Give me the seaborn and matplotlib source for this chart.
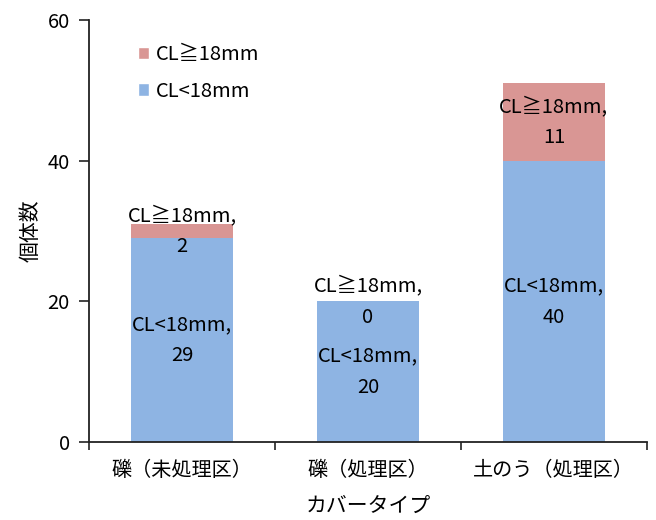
import matplotlib
matplotlib.use("Agg")
import matplotlib.pyplot as plt
from matplotlib.patches import Patch
import seaborn as sns
import pandas as pd

# Data
categories = ["礫（未処理区）", "礫（処理区）", "土のう（処理区）"]
small_counts = [29, 20, 40]   # CL<18mm
large_counts = [2, 0, 11]     # CL≧18mm
label_small = "CL<18mm"
label_large = "CL≧18mm"
y_ticks = [0, 20, 40, 60]

sns.set_theme(style="white")
plt.rcParams["font.family"] = ["Noto Sans CJK JP", "DejaVu Sans"]

blue = "#8EB4E3"
pink = "#D99694"
ink = "#000000"

df = pd.DataFrame({
    "type": categories,
    "small": small_counts,
    "large": large_counts,
})
df["total"] = df["small"] + df["large"]

fig = plt.figure(figsize=(6.56, 5.2), dpi=100)
ax = fig.add_axes([0.136, 0.15, 0.85, 0.8115])

sns.barplot(data=df, x="type", y="total", color=pink, width=0.55,
            saturation=1, ax=ax, linewidth=0)
sns.barplot(data=df, x="type", y="small", color=blue, width=0.55,
            saturation=1, ax=ax, linewidth=0)

# Segment labels, centred on each segment
fs = 14.5
for i, (s, l) in enumerate(zip(small_counts, large_counts)):
    ax.text(i, s / 2, f"{label_small},\n{s}", ha="center", va="center",
            fontsize=fs, color=ink, linespacing=1.65)
    ax.text(i, s + l / 2, f"{label_large},\n{l}", ha="center", va="center",
            fontsize=fs, color=ink, linespacing=1.65)

ax.set_ylim(0, 60)
ax.set_xlim(-0.5, 2.5)
ax.set_yticks(y_ticks)
ax.set_yticklabels([str(t) for t in y_ticks], fontsize=14.5, color=ink)
ax.set_xticks(range(len(categories)))
ax.set_xticklabels(categories, fontsize=14.5, color=ink)
ax.set_xticks([-0.5, 0.5, 1.5, 2.5], minor=True)
ax.tick_params(axis="x", which="major", length=0, pad=13)
ax.tick_params(axis="x", which="minor", length=6, width=1.2, color="#222222",
               direction="out", bottom=True)
ax.tick_params(axis="y", length=7, width=1.2, color="#222222",
               direction="out", left=True, pad=7)

ax.set_xlabel("カバータイプ", fontsize=15, labelpad=10, color=ink)
ax.set_ylabel("個体数", fontsize=15, labelpad=4, color=ink)

for side in ["top", "right"]:
    ax.spines[side].set_visible(False)
for side in ["left", "bottom"]:
    ax.spines[side].set_color("#222222")
    ax.spines[side].set_linewidth(1.3)

handles = [Patch(facecolor=pink, label=label_large),
           Patch(facecolor=blue, label=label_small)]
leg = ax.legend(handles=handles, loc="upper left", bbox_to_anchor=(0.055, 0.985),
                frameon=False, fontsize=14.5, handlelength=0.55, handleheight=0.55,
                handletextpad=0.35, labelspacing=0.75)
for t in leg.get_texts():
    t.set_color(ink)

fig.savefig("out.png", dpi=100)
